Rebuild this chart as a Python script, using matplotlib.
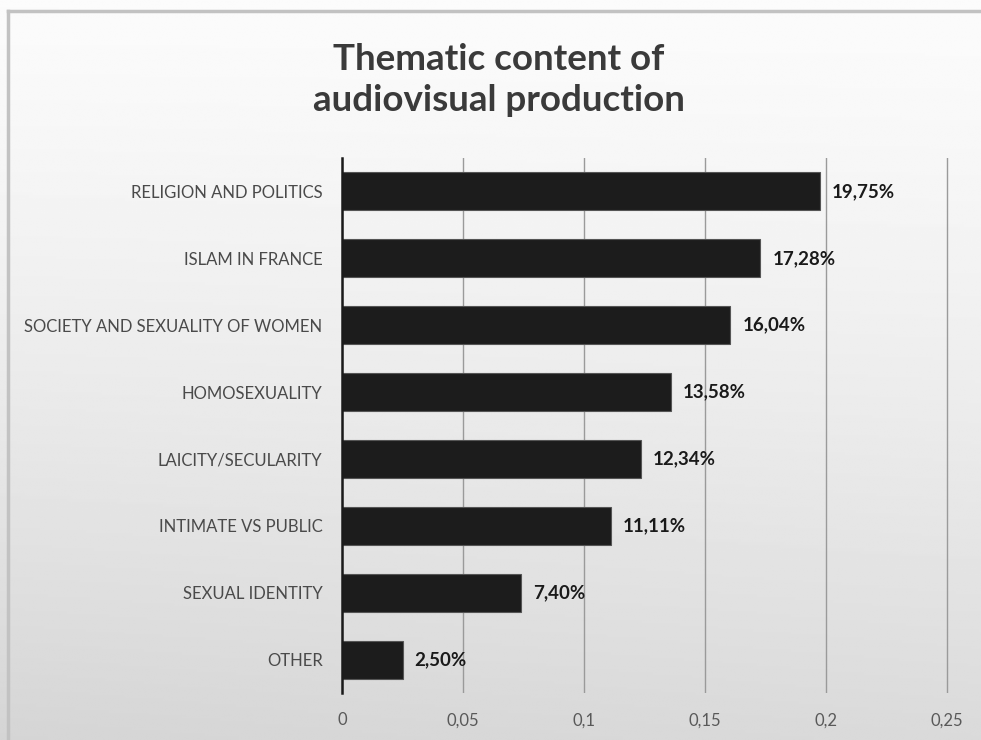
import numpy as np
import matplotlib.pyplot as plt

categories = [
    "RELIGION AND POLITICS",
    "ISLAM IN FRANCE",
    "SOCIETY AND SEXUALITY OF WOMEN",
    "HOMOSEXUALITY",
    "LAICITY/SECULARITY",
    "INTIMATE VS PUBLIC",
    "SEXUAL IDENTITY",
    "OTHER",
]
shares = [0.1975, 0.1728, 0.1604, 0.1358, 0.1234, 0.1111, 0.0740, 0.0250]
value_labels = ["19,75%", "17,28%", "16,04%", "13,58%", "12,34%", "11,11%", "7,40%", "2,50%"]
x_ticks = [0, 0.05, 0.1, 0.15, 0.2, 0.25]
x_tick_labels = ["0", "0,05", "0,1", "0,15", "0,2", "0,25"]

plt.rcParams["font.family"] = ["Lato", "DejaVu Sans"]

fig = plt.figure(figsize=(9.81, 7.4), dpi=100)

# soft gray gradient behind everything, like the exported slide
bg = fig.add_axes([0, 0, 1, 1], zorder=-10)
rows = np.linspace(0, 1, 256)[:, None]
cols = np.linspace(0, 1, 256)[None, :]
shade = 0.985 - 0.13 * rows ** 1.3 - 0.02 * (1 - cols) * rows
bg.imshow(shade, cmap="gray", vmin=0, vmax=1, aspect="auto",
          extent=[0, 1, 0, 1], origin="upper")
bg.plot([8 / 981, 8 / 981], [0, 1 - 11 / 740], color="#c2c2c2", lw=2.5)
bg.plot([8 / 981, 1], [1 - 11 / 740, 1 - 11 / 740], color="#c2c2c2", lw=2.5)
bg.set_xlim(0, 1)
bg.set_ylim(0, 1)
bg.axis("off")

ax = fig.add_axes([342 / 981, 1 - 693 / 740, 608 / 981, 535 / 740])
ax.patch.set_alpha(0)

y_pos = np.arange(len(categories))
ax.barh(y_pos, shares, height=0.57, color="#1c1c1c", edgecolor="#555555",
        linewidth=0.8, zorder=3)

for y, val, text in zip(y_pos, shares, value_labels):
    ax.text(val + 0.005, y, text, va="center", ha="left",
            fontsize=13.5, fontweight="bold", color="#1a1a1a", zorder=4)

ax.set_ylim(len(categories) - 0.5, -0.5)
ax.set_xlim(0, 0.25 * 608 / 605)
ax.set_yticks(y_pos)
ax.set_yticklabels(categories, fontsize=12, color="#4a4a4a")
ax.set_xticks(x_ticks)
ax.set_xticklabels(x_tick_labels, fontsize=12, color="#595959")
ax.tick_params(axis="y", length=0, pad=14)
ax.tick_params(axis="x", length=0, pad=14)

ax.grid(axis="x", color="#9a9a9a", linewidth=1.0, zorder=0)
for side in ["top", "right", "bottom"]:
    ax.spines[side].set_visible(False)
ax.spines["left"].set_color("#1a1a1a")
ax.spines["left"].set_linewidth(1.8)
ax.spines["left"].set_zorder(5)

fig.text(499 / 981, 1 - 80 / 740, "Thematic content of\naudiovisual production",
         ha="center", va="center", fontsize=26.5, fontweight="bold",
         color="#3a3a3a", linespacing=1.3)

fig.savefig("out.png", dpi=100)
